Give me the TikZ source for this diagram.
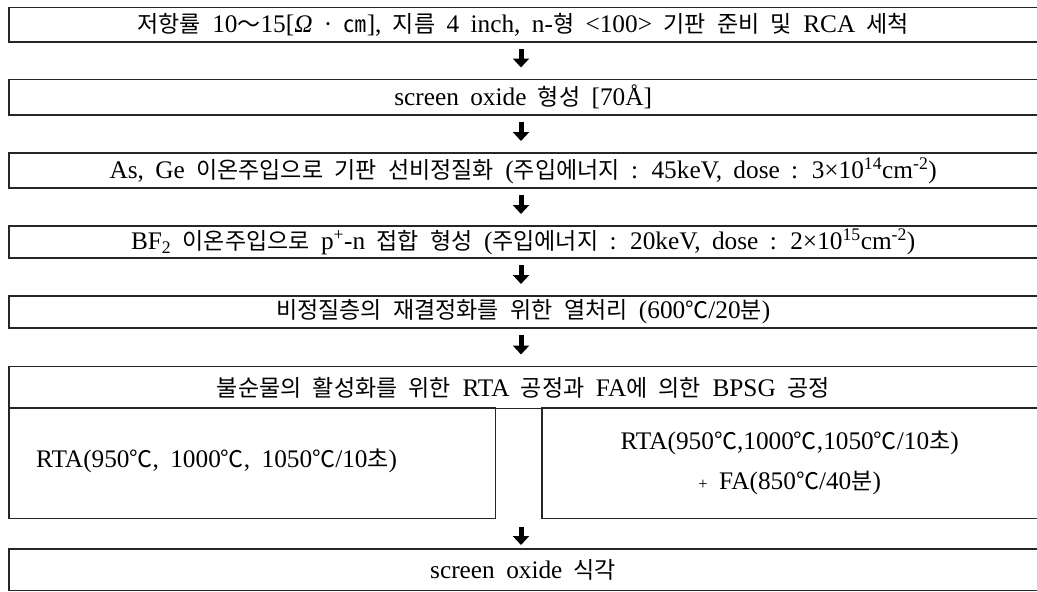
\documentclass[tikz,border=0pt]{standalone}
\usepackage{fontspec}
\setmainfont{Liberation Serif}[Scale=1.1, WordSpace=1.8]
\newfontfamily\krf{Noto Sans CJK KR}[WordSpace=2.2]
\newcommand\K[1]{{\krf #1}}
\newcommand\degC{{\krf ℃}}
\usetikzlibrary{arrows.meta}
\tikzset{
  txt/.style={font=\fontsize{23}{27}\selectfont, inner sep=0pt},
  stepbox/.style={txt, minimum width=1028pt, anchor=north west},
  boxline/.style={line width=1.3pt, draw=black!85},
  bigarrow/.style={line width=5pt, draw=black, -{Triangle[width=16pt,length=9pt]}, shorten <=7pt, shorten >=12pt}
}
\begin{document}
\begin{tikzpicture}[x=1pt,y=-1pt]
\useasboundingbox (0,0) rectangle (1037,592);
\coordinate (ax) at (521,0);
% main steps
\node[stepbox, minimum height=34pt] (b1) at (9,7.5) {\K{저항률} 10\K{～}15[\textit{Ω} · \K{㎝}], \K{지름} 4 inch, n-\K{형} <100> \K{기판 준비 및} RCA \K{세척}};
\node[stepbox, minimum height=35pt] (b2) at (9,79.5) {screen oxide \K{형성} [70Å]};
\node[stepbox, minimum height=34.5pt] (b3) at (9,153) {As, Ge \K{이온주입으로 기판 선비정질화} (\K{주입에너지} : 45keV, dose : 3×10\textsuperscript{14}cm\textsuperscript{-2})};
\node[stepbox, minimum height=31.5pt] (b4) at (9,226) {BF\textsubscript{2} \K{이온주입으로} p\textsuperscript{+}-n \K{접합 형성} (\K{주입에너지} : 20keV, dose : 2×10\textsuperscript{15}cm\textsuperscript{-2})};
\node[stepbox, minimum height=31.5pt] (b5) at (9,296) {\K{비정질층의 재결정화를 위한 열처리} (600\degC/20\K{분})};
\node[stepbox, minimum height=41.5pt] (b6) at (9,366.5) {\K{불순물의 활성화를 위한} RTA \K{공정과} FA\K{에 의한} BPSG \K{공정}};
\node[stepbox, minimum height=41pt] (b7) at (9,549) {screen oxide \K{식각}};
% sub boxes
\node[txt, draw=none, minimum width=486pt, minimum height=110pt, anchor=north west] (sl) at (9,408) {};
\node[txt, draw=none, minimum width=495pt, minimum height=110pt, anchor=north west] (sr) at (542,408) {};
\node[txt, anchor=west] (tl) at (36,461) {RTA(950\degC, 1000\degC, 1050\degC/10\K{초})};
\node[txt, font=\fontsize{23}{40}\selectfont, align=center] (tr) at (sr.center) {RTA(950\degC,1000\degC,1050\degC/10\K{초})\\{\fontsize{15}{15}\selectfont +} FA(850\degC/40\K{분})};
% outlines (right side open at the picture edge)
\foreach \n in {b1,b2,b3,b4,b5,b6,b7,sr}
  \draw[boxline] (\n.north east) -- (\n.north west) -- (\n.south west) -- (\n.south east);
\draw[boxline] (sl.north west) rectangle (sl.south east);
% arrows
\draw[bigarrow] (b1.south -| ax) -- (b2.north -| ax);
\draw[bigarrow] (b2.south -| ax) -- (b3.north -| ax);
\draw[bigarrow] (b3.south -| ax) -- (b4.north -| ax);
\draw[bigarrow] (b4.south -| ax) -- (b5.north -| ax);
\draw[bigarrow] (b5.south -| ax) -- (b6.north -| ax);
\draw[bigarrow, shorten <=9pt, shorten >=4pt] (sl.south -| ax) -- (b7.north -| ax);
\end{tikzpicture}
\end{document}
